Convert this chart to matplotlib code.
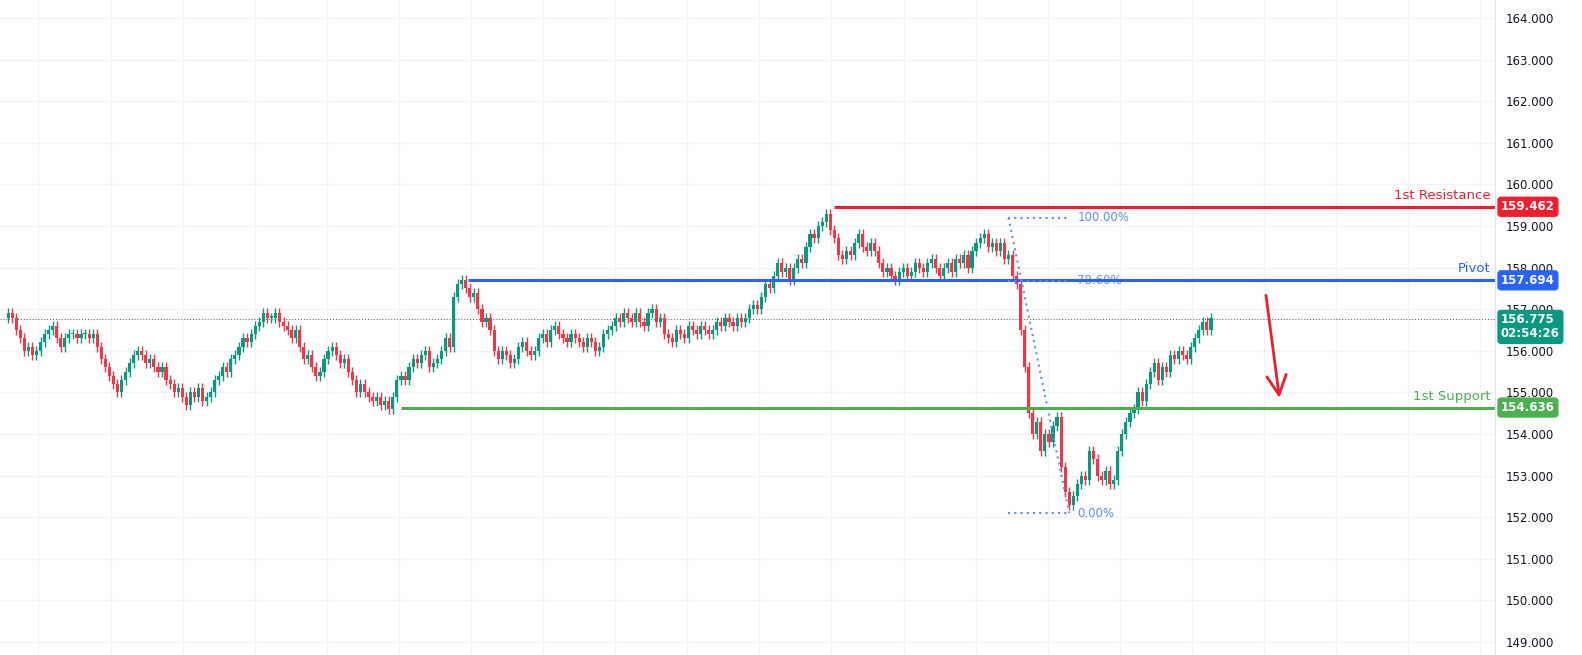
import matplotlib.pyplot as plt
import numpy as np

# ---- data ----
closes = [
    156.9,156.8,156.5,156.3,156.0,156.1,155.9,156.0,156.2,156.4,
    156.5,156.6,156.3,156.1,156.3,156.4,156.4,156.3,156.4,156.4,
    156.3,156.4,156.1,155.8,155.6,155.4,155.2,155.0,155.3,155.5,
    155.7,155.9,156.0,155.9,155.7,155.8,155.6,155.5,155.6,155.3,
    155.2,155.0,155.1,154.9,154.7,155.0,154.9,155.1,154.8,154.9,
    155.0,155.3,155.4,155.6,155.5,155.8,155.9,156.1,156.3,156.2,
    156.4,156.6,156.7,156.9,156.8,156.8,156.9,156.7,156.6,156.5,
    156.3,156.5,156.1,155.8,155.9,155.6,155.4,155.5,155.8,156.0,
    156.1,155.9,155.7,155.8,155.5,155.3,155.0,155.2,155.0,154.9,
    154.8,154.9,154.7,154.8,154.6,154.9,155.3,155.4,155.3,155.6,
    155.8,155.7,155.9,156.0,155.6,155.7,155.8,156.0,156.3,156.1,
    157.3,157.6,157.7,157.5,157.3,157.4,157.0,156.7,156.8,156.5,
    156.0,155.8,156.0,155.9,155.7,155.8,156.1,156.2,156.0,155.9,
    156.0,156.3,156.4,156.2,156.5,156.6,156.4,156.3,156.2,156.4,
    156.3,156.2,156.1,156.3,156.2,156.0,156.1,156.4,156.5,156.6,
    156.8,156.7,156.9,156.8,156.7,156.9,156.7,156.6,156.9,157.0,
    156.7,156.8,156.4,156.3,156.2,156.5,156.4,156.3,156.6,156.5,
    156.4,156.6,156.5,156.4,156.5,156.7,156.6,156.8,156.7,156.6,
    156.8,156.7,156.8,157.0,157.1,157.0,157.3,157.6,157.5,157.8,
    158.1,157.9,158.0,157.7,158.0,158.2,158.1,158.5,158.8,158.7,
    159.0,159.1,159.3,158.9,158.7,158.3,158.2,158.4,158.3,158.6,
    158.8,158.5,158.4,158.6,158.4,158.1,157.9,158.0,157.8,157.7,
    157.9,158.0,157.8,157.9,158.1,158.0,157.9,158.1,158.2,158.0,
    157.8,158.0,158.1,157.9,158.2,158.1,158.3,158.0,158.4,158.6,
    158.7,158.8,158.5,158.6,158.4,158.6,158.2,158.3,157.8,157.6,
    156.5,155.6,154.5,154.0,154.3,153.6,154.0,153.8,154.2,154.4,
    153.2,152.6,152.3,152.5,152.8,153.0,152.9,153.6,153.4,153.0,
    152.9,153.1,152.8,152.9,153.6,154.0,154.3,154.5,154.6,155.0,
    154.8,155.2,155.5,155.7,155.3,155.6,155.5,155.9,155.8,156.0,
    155.9,155.8,156.1,156.3,156.5,156.7,156.5,156.78,
]
first_open = 156.8
resistance = 159.462
pivot = 157.694
support = 154.636
last_price = 156.775
countdown = "02:54:26"
fib_high = (247, 159.2)
fib_low = (262, 152.1)
yticks = list(range(149, 165))

GREEN = '#089981'
RED = '#f23645'

W, H = 1582, 655
fig = plt.figure(figsize=(W / 100, H / 100), dpi=100)
ax = fig.add_axes([0, 0, 1495 / W, 1])
ppu = 41.6
ax.set_ylim(164 - (H - 18) / ppu, 164 + 18 / ppu)
ax.set_xlim(-2, -2 + 1495 / 4.05)

# grid
for gx in np.arange(7.5, 372, 17.8):
    ax.axvline(gx, color='#f0f3fa', lw=1, zorder=0)
for gy in yticks:
    ax.axhline(gy, color='#f0f3fa', lw=1, zorder=0)

# candles
opens = [first_open] + closes[:-1]
for i, (o, c) in enumerate(zip(opens, closes)):
    col = GREEN if c >= o else RED
    lo, hi = min(o, c), max(o, c)
    ax.vlines(i, lo - 0.12, hi + 0.12, color=col, lw=1, zorder=3)
    ax.bar(i, max(hi - lo, 0.03), bottom=lo, width=0.78, color=col, lw=0, zorder=3)

# levels
ax.hlines(resistance, 204, 400, color='#f21d2c', lw=2.2, zorder=4)
ax.hlines(pivot, 113.5, 400, color='#2962ff', lw=2.2, zorder=4)
ax.hlines(support, 97, 400, color='#4caf50', lw=2.2, zorder=4)
ax.axhline(last_price, color='#555555', lw=0.7, ls=(0, (1, 2)), zorder=2)
ax.text(366, resistance + 0.12, '1st Resistance', color='#f21d2c', ha='right', va='bottom', fontsize=9.5)
ax.text(366, pivot + 0.12, 'Pivot', color='#2962ff', ha='right', va='bottom', fontsize=9.5)
ax.text(366, support + 0.12, '1st Support', color='#4caf50', ha='right', va='bottom', fontsize=9.5)

# fib
fc = '#5b8ff9'
ax.plot([fib_high[0], fib_low[0]], [fib_high[1], fib_low[1]], color=fc, ls=(0, (1, 2)), lw=1.5, zorder=5)
for lvl, lab in [(1.0, '100.00%'), (0.786, '78.60%'), (0.0, '0.00%')]:
    p = fib_low[1] + lvl * (fib_high[1] - fib_low[1])
    ax.hlines(p, 247, 262, color=fc, ls=(0, (1, 2)), lw=1.5, zorder=5)
    ax.text(264, p, lab, color=fc, va='center', fontsize=8.5)

# arrow
ax.annotate('', xy=(314, 154.8), xytext=(310.5, 157.4),
            arrowprops=dict(arrowstyle='->,head_length=1.4,head_width=0.7', color='#f21d2c', lw=2))

# axis
ax.yaxis.tick_right()
ax.set_yticks(yticks)
ax.set_yticklabels([f'{t:.3f}' for t in yticks], fontsize=8.5, color='#131722')
ax.tick_params(axis='y', length=0, pad=8)
ax.set_xticks([])
for s in ['top', 'left', 'bottom']:
    ax.spines[s].set_visible(False)
ax.spines['right'].set_color('#e0e3eb')

# price labels on axis
def tag(p, txt, col):
    ax.text(1.004, p, txt, transform=ax.get_yaxis_transform(), color='white', fontsize=8.5,
            va='center', ha='left', fontweight='bold', linespacing=1.1,
            bbox=dict(boxstyle='round,pad=0.25', fc=col, ec=col), zorder=10, clip_on=False)

tag(resistance, f'{resistance:.3f}', '#f21d2c')
tag(pivot, f'{pivot:.3f}', '#2962ff')
tag(support, f'{support:.3f}', '#4caf50')
tag(last_price - 0.2, f'{last_price:.3f}\n{countdown}', GREEN)

fig.savefig('out.png', dpi=100)
